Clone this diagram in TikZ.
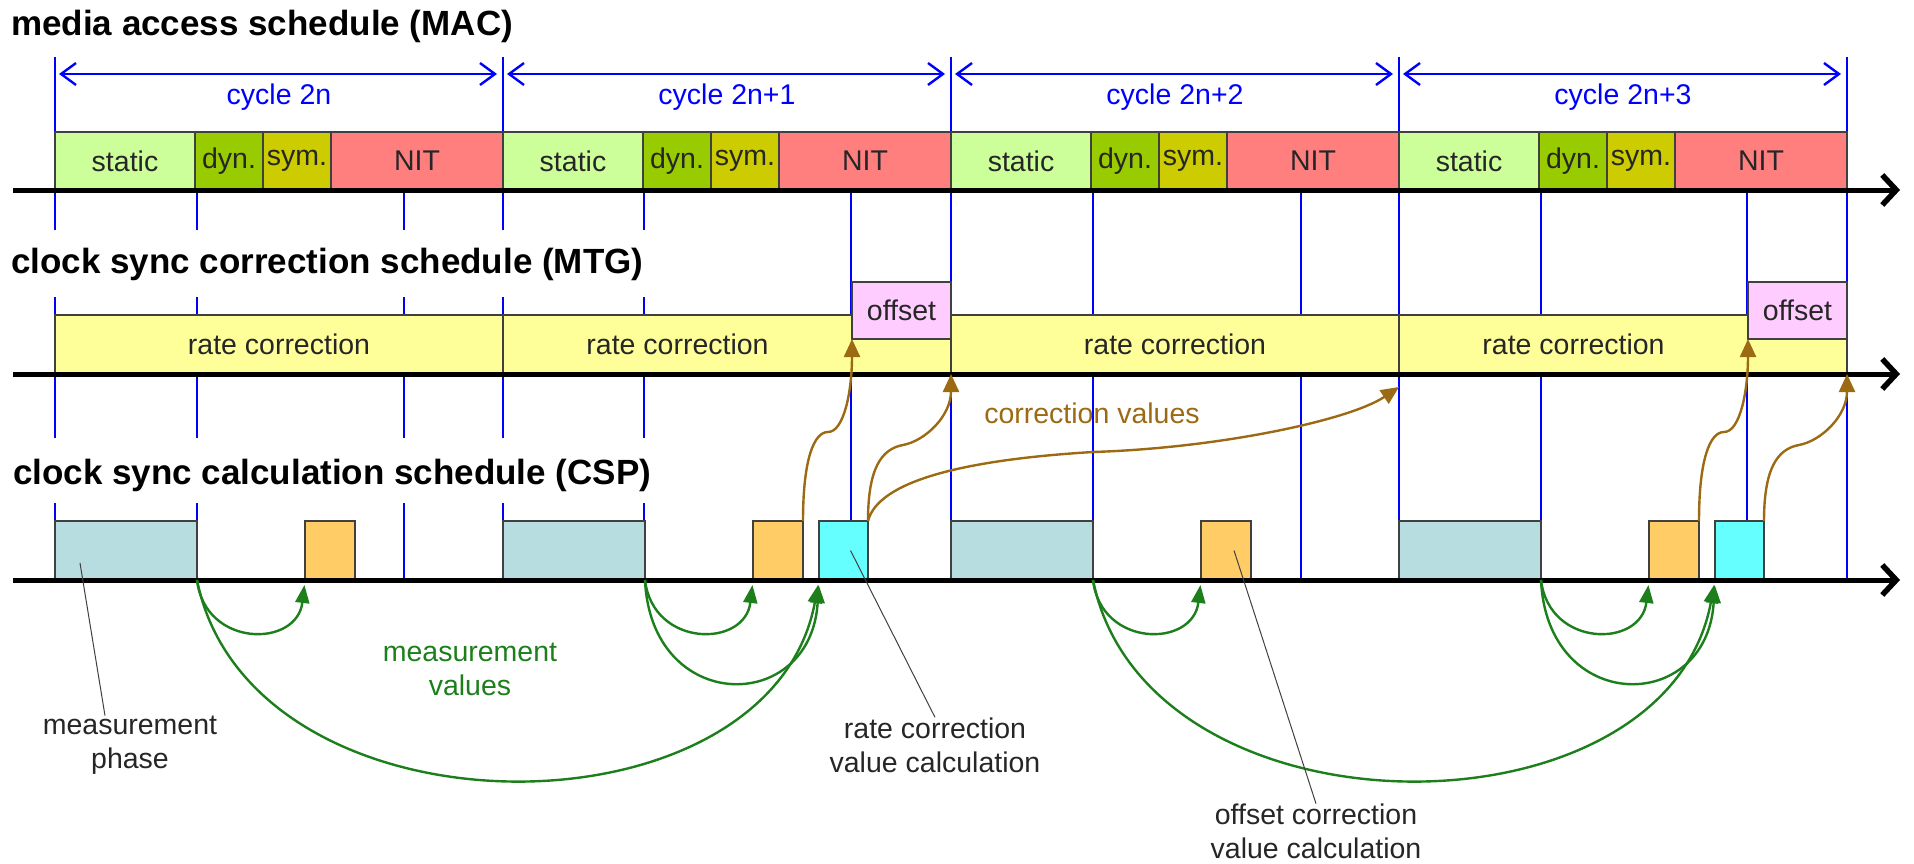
\documentclass[tikz,border=0pt]{standalone}
\usepackage{fontspec}
\setmainfont{Liberation Sans}
\usetikzlibrary{positioning,calc,arrows.meta}

\definecolor{cstatic}{HTML}{CCFF99}
\definecolor{cdyn}{HTML}{99CC00}
\definecolor{csym}{HTML}{CCCC00}
\definecolor{cnit}{HTML}{FF7F7F}
\definecolor{crate}{HTML}{FFFF99}
\definecolor{coffset}{HTML}{FFCCFF}
\definecolor{cmeas}{HTML}{B7DDE1}
\definecolor{cocalc}{HTML}{FFCC66}
\definecolor{crcalc}{HTML}{66FFFF}
\definecolor{cgrid}{HTML}{0000FF}
\definecolor{cbrown}{HTML}{9C6A12}
\definecolor{cgreen}{HTML}{1C7F1C}

\tikzset{
  lbl/.style={font=\fontsize{28.5}{34}\selectfont, inner sep=0pt, align=center, text=black!85},
  heading/.style={font=\fontsize{35}{40}\selectfont\bfseries, anchor=base west, inner sep=0pt},
  slot/.style={lbl, draw=black!75, line width=1.2pt, anchor=north west, outer sep=0pt},
  gridline/.style={cgrid, line width=1.4pt},
  timeaxis/.style={line width=5pt, -{Straight Barb[length=14pt,width=30pt,line width=5.5pt]}},
  span/.style={cgrid, line width=2pt, {Straight Barb[length=15pt,width=22pt,line width=2.4pt]}-{Straight Barb[length=15pt,width=22pt,line width=2.4pt]}},
  meas/.style={cgreen, line width=2.4pt, shorten >=5pt, -{Triangle[length=18pt,width=14pt]}},
  corr/.style={cbrown, line width=2.4pt, -{Triangle[length=18pt,width=16pt]}},
  leader/.style={black!75, line width=1pt},
}

\begin{document}
\begin{tikzpicture}[x=1pt, y=-1pt]
\useasboundingbox (0,0) rectangle (1914,864);

% grid
\foreach \x in {55,503,951,1399,1847}
  \draw[gridline] (\x,57) -- (\x,132);
\foreach \x in {55,197,404,503,644} {
  \draw[gridline] (\x,132) -- (\x,230);
  \draw[gridline] (\x,297) -- (\x,438);
  \draw[gridline] (\x,503) -- (\x,580);
}
\foreach \x in {851,951,1093,1301,1399,1541,1747,1847}
  \draw[gridline] (\x,132) -- (\x,580);

% schedules
\node[heading] (mactitle) at (11,36) {media access schedule (MAC)};
\node[heading] (mtgtitle) at (11,273) {clock sync correction schedule (MTG)};
\node[heading] (csptitle) at (13,484) {clock sync calculation schedule (CSP)};

\foreach \c/\cname/\w in {0/2n/448, 1/2n+1/349, 2/2n+2/448, 3/2n+3/349} {
  \pgfmathsetmacro\x{55+448*\c}
  \coordinate (cs\c) at (\x+4,74);
  \coordinate (ce\c) at (\x+442,74);
  \draw[span] (cs\c) -- (ce\c);
  \node[lbl, text=cgrid] (cyc\c) at (\x+224,97) {cycle \cname};

  \node[slot, fill=cstatic, minimum width=140pt, minimum height=58pt] (stat\c) at (\x,132) {static};
  \node[slot, fill=cdyn, minimum width=68pt, minimum height=58pt, right=0pt of stat\c] (dyn\c) {dyn.};
  \node[slot, fill=csym, minimum width=68pt, minimum height=58pt, right=0pt of dyn\c] (sym\c) {sym.};
  \node[slot, fill=cnit, minimum width=172pt, minimum height=58pt, right=0pt of sym\c] (nit\c) {NIT};

  \node[slot, fill=crate, minimum width=448pt, minimum height=59pt] (rate\c) at (\x,315) {};
  \node[lbl] (ratelbl\c) at (\x+\w/2,344.5) {rate correction};

  \node[slot, fill=cmeas, minimum width=142pt, minimum height=59pt] (meas\c) at (\x,521) {};
  \node[slot, fill=cocalc, minimum width=50pt, minimum height=59pt] (ocalc\c) at (\x+250,521) {};
}
\foreach \c in {1,3} {
  \pgfmathsetmacro\x{55+448*\c}
  \node[slot, fill=coffset, minimum width=99pt, minimum height=57pt] (off\c) at (\x+349,282) {offset};
  \node[slot, fill=crcalc, minimum width=49pt, minimum height=59pt] (rcalc\c) at (\x+316,521) {};
}

% time axes
\foreach \y in {190,374,580}
  \draw[timeaxis] (13,\y) -- (1900,\y);

% measurement values
\foreach \c in {0,...,3}
  \draw[meas] (meas\c.south east) .. controls +(8,68) and +(-8,68) .. (ocalc\c.south west);
\foreach \c in {1,3}
  \draw[meas] (meas\c.south east) .. controls +(6,135) and +(-8,135) .. (rcalc\c.south west);
\draw[meas] (meas0.south east) .. controls +(53,265) and +(-49,265) .. (rcalc1.south west);
\draw[meas] (meas2.south east) .. controls +(53,265) and +(-49,265) .. (rcalc3.south west);

% correction values
\foreach \c in {1,3} {
  \draw[corr] (ocalc\c.north east) .. controls +(0,-62) and +(-14,0) .. ($(ocalc\c.north east)+(25,-89)$)
    .. controls +(16,0) and +(0,52) .. (off\c.south west);
  \draw[corr] (rcalc\c.north east) .. controls +(0,-52) and +(-22,4) .. ($(rcalc\c.north east)+(35,-76)$)
    .. controls +(22,-4) and +(0,42) .. (rate\c.south east);
}
\coordinate (corrend) at ($(rate2.south east)+(0,13)$);
\draw[corr] (rcalc1.north east) .. controls +(10,-39) and +(-133,8) .. (1093,452)
  .. controls +(127,-4) and +(-49,33) .. (corrend);

% labels
\node[lbl, text=cbrown] (corrval) at (1092,413) {correction values};
\node[lbl, text=cgreen] (measval) at (470,669) {measurement\\values};
\node[lbl] (mphase) at (130,745) {measurement\\phase};
\node[lbl] (rlab) at (935,745) {rate correction\\value calculation};
\node[lbl, anchor=south] (olab) at (1316,859) {offset correction\\value calculation};

\draw[leader] ([xshift=25pt,yshift=17pt]meas0.south west) -- ([xshift=-25pt]mphase.north);
\draw[leader] ([xshift=7pt]rcalc1.center) -- (rlab.north);
\draw[leader] ([xshift=8pt]ocalc2.center) -- (olab.north);
\end{tikzpicture}
\end{document}
